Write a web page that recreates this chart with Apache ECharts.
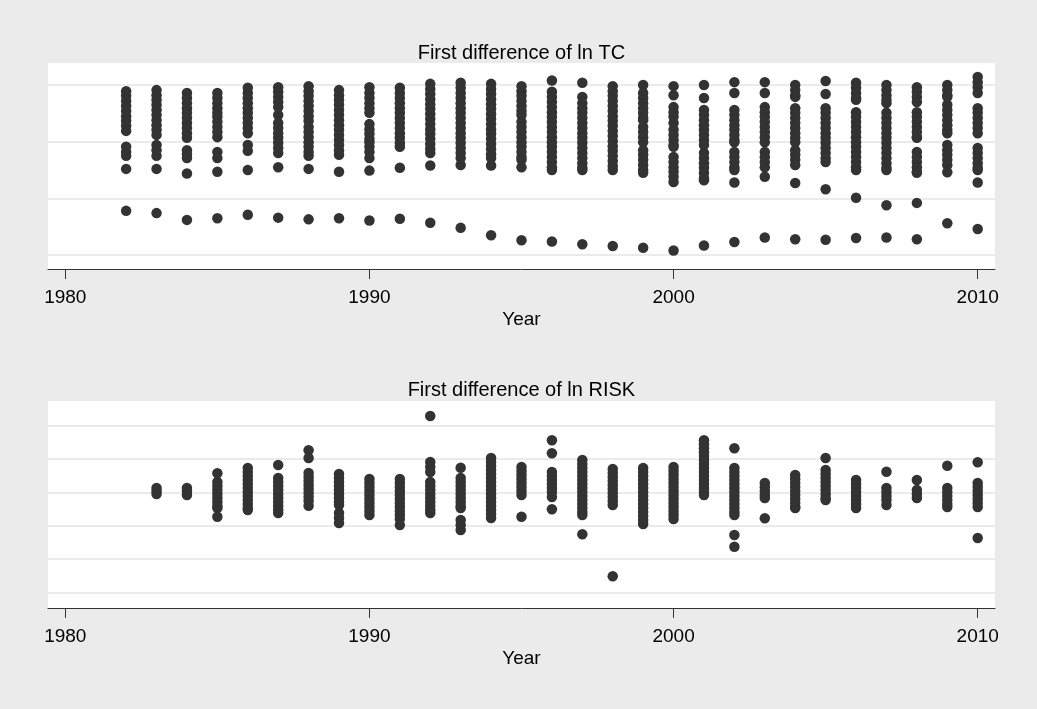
<!DOCTYPE html>
<html>
<head>
<meta charset="utf-8">
<script src="https://cdn.jsdelivr.net/npm/echarts@6/dist/echarts.min.js"></script>
<style>
html,body{margin:0;padding:0;background:#ebebeb;}
#chart{width:1037px;height:709px;}
</style>
</head>
<body>
<div id="chart"></div>
<script>
// ---- data ----
const titles = ['First difference of ln TC', 'First difference of ln RISK'];
const xAxisTitle = 'Year';
const xTicks = [1980, 1990, 2000, 2010];
const tcGridlines = [-0.2, -0.1, 0, 0.1];
const riskGridlines = [-0.3, -0.2, -0.1, 0, 0.1, 0.2];

const tcYears = [1982,1983,1984,1985,1986,1987,1988,1989,1990,1991,1992,1993,1994,1995,1996,1997,1998,1999,2000,2001,2002,2003,2004,2005,2006,2007,2008,2009,2010];
const tcValues = [
  [0.089,0.081,0.072,0.063,0.054,0.045,0.037,0.028,0.019,-0.009,-0.018,-0.025,-0.048,-0.122],
  [0.091,0.082,0.074,0.065,0.056,0.047,0.038,0.029,0.021,0.012,-0.006,-0.015,-0.025,-0.048,-0.126],
  [0.086,0.077,0.068,0.059,0.051,0.042,0.033,0.024,0.015,0.007,-0.015,-0.022,-0.029,-0.056,-0.138],
  [0.086,0.077,0.068,0.059,0.051,0.044,0.035,0.026,0.017,0.008,-0.018,-0.029,-0.053,-0.135],
  [0.095,0.086,0.077,0.068,0.059,0.051,0.042,0.033,0.024,0.015,-0.006,-0.016,-0.050,-0.129],
  [0.096,0.088,0.079,0.070,0.061,0.047,0.033,0.024,0.015,0.007,-0.002,-0.011,-0.020,-0.045,-0.134],
  [0.098,0.089,0.081,0.072,0.063,0.054,0.045,0.037,0.026,0.017,0.008,-0.001,-0.009,-0.018,-0.025,-0.048,-0.137],
  [0.091,0.082,0.074,0.065,0.056,0.047,0.038,0.029,0.021,0.012,0.003,-0.006,-0.015,-0.023,-0.053,-0.135],
  [0.096,0.086,0.077,0.068,0.059,0.051,0.031,0.022,0.014,0.005,-0.001,-0.009,-0.018,-0.029,-0.051,-0.139],
  [0.095,0.086,0.077,0.068,0.059,0.051,0.042,0.033,0.024,0.015,0.007,-0.002,-0.009,-0.046,-0.136],
  [0.102,0.093,0.084,0.075,0.066,0.058,0.049,0.040,0.031,0.022,0.014,0.005,-0.004,-0.013,-0.020,-0.042,-0.143],
  [0.104,0.095,0.086,0.077,0.068,0.059,0.051,0.042,0.033,0.024,0.015,0.007,-0.002,-0.011,-0.020,-0.029,-0.041,-0.152],
  [0.102,0.093,0.084,0.075,0.066,0.058,0.049,0.040,0.031,0.022,0.014,0.005,-0.004,-0.013,-0.022,-0.029,-0.042,-0.165],
  [0.098,0.089,0.081,0.072,0.063,0.054,0.047,0.035,0.026,0.017,0.008,-0.001,-0.009,-0.018,-0.027,-0.032,-0.045,-0.174],
  [0.108,0.088,0.079,0.070,0.061,0.052,0.044,0.035,0.026,0.017,0.008,-0.001,-0.009,-0.018,-0.027,-0.036,-0.045,-0.050,-0.176],
  [0.104,0.079,0.068,0.059,0.051,0.042,0.033,0.024,0.015,0.007,-0.002,-0.011,-0.020,-0.029,-0.038,-0.046,-0.050,-0.181],
  [0.098,0.089,0.081,0.072,0.063,0.054,0.045,0.037,0.028,0.019,0.010,0.001,-0.008,-0.016,-0.025,-0.034,-0.043,-0.050,-0.184],
  [0.100,0.086,0.077,0.068,0.059,0.051,0.042,0.038,0.026,0.017,0.008,-0.001,-0.015,-0.023,-0.032,-0.041,-0.050,-0.055,-0.187],
  [0.098,0.082,0.061,0.052,0.044,0.033,0.021,0.012,0.003,-0.006,-0.009,-0.027,-0.036,-0.045,-0.053,-0.062,-0.071,-0.192],
  [0.100,0.077,0.056,0.047,0.038,0.029,0.021,0.012,0.003,-0.006,-0.020,-0.029,-0.038,-0.046,-0.055,-0.064,-0.068,-0.183],
  [0.105,0.086,0.056,0.047,0.038,0.029,0.021,0.012,0.003,-0.001,-0.018,-0.027,-0.036,-0.045,-0.050,-0.072,-0.177],
  [0.105,0.086,0.061,0.052,0.044,0.035,0.026,0.017,0.008,-0.001,-0.018,-0.027,-0.036,-0.045,-0.062,-0.169],
  [0.100,0.091,0.082,0.079,0.059,0.051,0.042,0.033,0.024,0.015,0.007,-0.001,-0.015,-0.023,-0.032,-0.041,-0.073,-0.172],
  [0.107,0.084,0.059,0.051,0.042,0.033,0.024,0.015,0.007,-0.002,-0.011,-0.020,-0.029,-0.036,-0.084,-0.173],
  [0.104,0.095,0.086,0.077,0.074,0.052,0.044,0.035,0.026,0.017,0.008,-0.001,-0.009,-0.018,-0.027,-0.036,-0.045,-0.050,-0.099,-0.170],
  [0.100,0.091,0.082,0.074,0.068,0.051,0.042,0.033,0.024,0.015,0.007,-0.002,-0.011,-0.020,-0.029,-0.038,-0.046,-0.050,-0.112,-0.169],
  [0.096,0.088,0.079,0.070,0.052,0.044,0.035,0.026,0.017,0.008,0.007,-0.018,-0.027,-0.036,-0.045,-0.053,-0.055,-0.108,-0.172],
  [0.100,0.091,0.082,0.079,0.065,0.056,0.047,0.038,0.029,0.021,0.015,-0.006,-0.015,-0.023,-0.032,-0.041,-0.054,-0.144],
  [0.114,0.105,0.096,0.086,0.059,0.051,0.042,0.033,0.024,0.015,-0.011,-0.020,-0.029,-0.038,-0.046,-0.050,-0.072,-0.154]
];

const riskYears = [1983,1984,1985,1986,1987,1988,1989,1990,1991,1992,1993,1994,1995,1996,1997,1998,1999,2000,2001,2002,2003,2004,2005,2006,2007,2008,2009,2010];
const riskValues = [
  [0.013,0.004,-0.005],
  [0.013,0.004,-0.008],
  [0.057,0.031,0.019,0.007,-0.005,-0.017,-0.029,-0.041,-0.047,-0.073],
  [0.073,0.061,0.049,0.037,0.025,0.013,0.001,-0.011,-0.023,-0.035,-0.047,-0.053],
  [0.082,0.043,0.031,0.019,0.007,-0.005,-0.017,-0.029,-0.041,-0.053,-0.062],
  [0.126,0.103,0.058,0.046,0.034,0.022,0.010,-0.002,-0.014,-0.026,-0.040],
  [0.055,0.043,0.031,0.019,0.007,-0.005,-0.017,-0.029,-0.038,-0.062,-0.077,-0.092],
  [0.040,0.028,0.016,0.004,-0.008,-0.020,-0.032,-0.044,-0.056,-0.068],
  [0.040,0.028,0.016,0.004,-0.008,-0.020,-0.032,-0.044,-0.056,-0.068,-0.080,-0.098],
  [0.229,0.091,0.076,0.061,0.031,0.019,0.007,-0.005,-0.017,-0.029,-0.041,-0.053,-0.062],
  [0.074,0.043,0.031,0.019,0.007,-0.005,-0.017,-0.029,-0.041,-0.047,-0.083,-0.098,-0.113],
  [0.103,0.091,0.079,0.067,0.055,0.043,0.031,0.019,0.007,-0.005,-0.017,-0.029,-0.041,-0.053,-0.065,-0.077],
  [0.076,0.064,0.052,0.040,0.028,0.016,0.004,-0.008,-0.073],
  [0.156,0.117,0.061,0.049,0.037,0.025,0.013,0.001,-0.014,-0.051],
  [0.097,0.085,0.073,0.061,0.049,0.037,0.025,0.013,0.001,-0.011,-0.023,-0.035,-0.047,-0.059,-0.068,-0.126],
  [0.070,0.058,0.046,0.034,0.022,0.010,-0.002,-0.014,-0.026,-0.038,-0.252],
  [0.073,0.061,0.049,0.037,0.025,0.013,0.001,-0.011,-0.023,-0.035,-0.047,-0.059,-0.071,-0.083,-0.095],
  [0.076,0.064,0.052,0.040,0.028,0.016,0.004,-0.008,-0.020,-0.032,-0.044,-0.056,-0.068,-0.080],
  [0.156,0.144,0.132,0.120,0.109,0.097,0.085,0.073,0.061,0.049,0.037,0.025,0.013,0.001,-0.008],
  [0.132,0.073,0.061,0.049,0.037,0.025,0.013,0.001,-0.011,-0.023,-0.035,-0.047,-0.059,-0.068,-0.128,-0.163],
  [0.028,0.016,0.004,-0.008,-0.017,-0.078],
  [0.052,0.040,0.028,0.016,0.004,-0.008,-0.020,-0.032,-0.044,-0.047],
  [0.103,0.067,0.055,0.043,0.031,0.019,0.007,-0.005,-0.017,-0.023],
  [0.037,0.025,0.013,0.001,-0.011,-0.023,-0.035,-0.047],
  [0.062,0.013,0.001,-0.011,-0.023,-0.038],
  [0.037,0.007,-0.005,-0.017],
  [0.080,0.013,0.001,-0.011,-0.023,-0.035,-0.044],
  [0.090,0.028,0.016,0.004,-0.008,-0.020,-0.032,-0.044,-0.137]
];

// ---- build chart ----
function pairs(years, values) {
  const out = [];
  years.forEach((y, i) => values[i].forEach(v => out.push([y, v])));
  return out;
}
const FONT = "'Liberation Sans', Arial, sans-serif";
const DOT = '#333333';
const GRIDC = '#ebebeb';

function xAxisFor(gridIndex) {
  return {
    gridIndex, type: 'value', min: 1979.431, max: 2010.569,
    name: xAxisTitle, nameLocation: 'middle', nameGap: 41,
    nameTextStyle: {color: '#000', fontSize: 19, fontFamily: FONT},
    axisLine: {show: true, onZero: false, lineStyle: {color: '#333', width: 1}},
    axisTick: {show: true, length: 10, customValues: xTicks, lineStyle: {color: '#333', width: 1}},
    axisLabel: {show: true, customValues: xTicks, margin: 19, color: '#000', fontSize: 19, fontFamily: FONT,
                formatter: v => String(Math.round(v))},
    splitLine: {show: false}
  };
}
function gridSeries(idx, lines) {
  return {
    type: 'line', xAxisIndex: idx, yAxisIndex: idx, data: [], silent: true, z: 1,
    markLine: {
      silent: true, z: 1, symbol: ['none', 'none'], animation: false,
      label: {show: false},
      lineStyle: {color: GRIDC, width: 2, type: 'solid'},
      emphasis: {disabled: true},
      data: lines.map(v => ({yAxis: v}))
    }
  };
}
function dotSeries(idx, data) {
  return {
    type: 'scatter', xAxisIndex: idx, yAxisIndex: idx, data, z: 3,
    symbol: 'circle', symbolSize: 10.5,
    itemStyle: {color: DOT, opacity: 1},
    emphasis: {disabled: true}
  };
}

const chart = echarts.init(document.getElementById('chart'), null, {renderer: 'canvas'});
chart.setOption({
  animation: false,
  backgroundColor: '#ebebeb',
  textStyle: {fontFamily: FONT},
  title: [
    {text: titles[0], left: 521.4, top: 43, textAlign: 'center', padding: 0,
     textStyle: {fontSize: 20, fontWeight: 'normal', color: '#000', fontFamily: FONT}},
    {text: titles[1], left: 521.4, top: 380, textAlign: 'center', padding: 0,
     textStyle: {fontSize: 20, fontWeight: 'normal', color: '#000', fontFamily: FONT}}
  ],
  grid: [
    {left: 48, width: 947, top: 63, height: 206, show: true, backgroundColor: '#ffffff', borderWidth: 0, containLabel: false},
    {left: 48, width: 947, top: 401, height: 207, show: true, backgroundColor: '#ffffff', borderWidth: 0, containLabel: false}
  ],
  xAxis: [xAxisFor(0), xAxisFor(1)],
  yAxis: [
    {gridIndex: 0, type: 'value', min: -0.2246, max: 0.1388, show: false, splitLine: {show: false}},
    {gridIndex: 1, type: 'value', min: -0.347, max: 0.274, show: false, splitLine: {show: false}}
  ],
  series: [
    gridSeries(0, tcGridlines),
    gridSeries(1, riskGridlines),
    dotSeries(0, pairs(tcYears, tcValues)),
    dotSeries(1, pairs(riskYears, riskValues))
  ]
});
</script>
</body>
</html>
